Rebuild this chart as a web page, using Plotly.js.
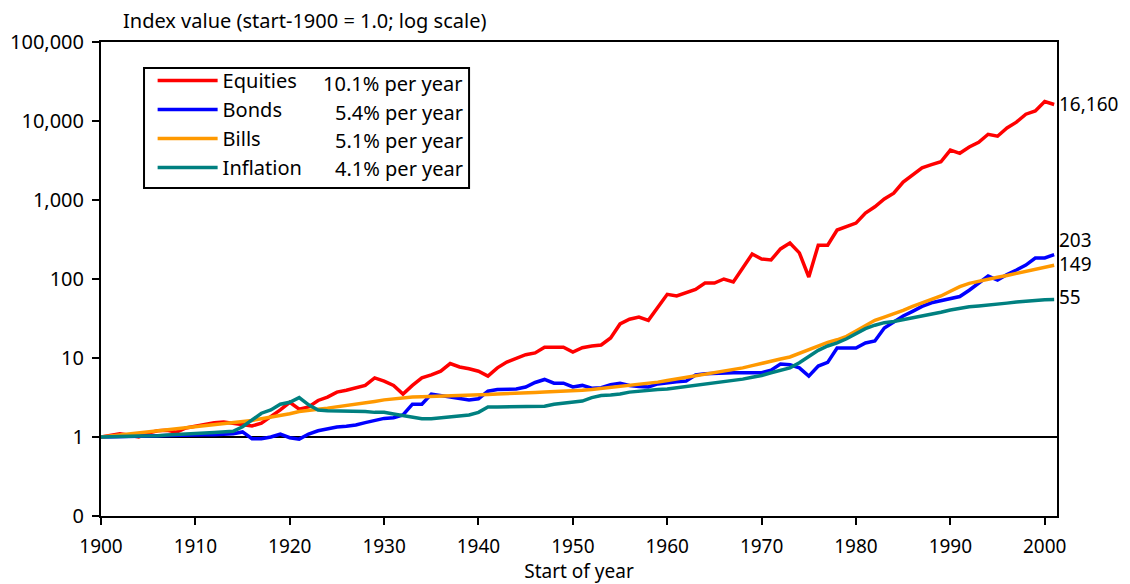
<!DOCTYPE html>
<html>
<head>
<meta charset="utf-8">
<script src="https://cdn.plot.ly/plotly-3.0.1.min.js"></script>
<style>
  html, body { margin: 0; padding: 0; background: #ffffff; }
  #chart { width: 1130px; height: 584px; }
</style>
</head>
<body>
<div id="chart"></div>
<script>
// ---- Data ----
const years = [
  1900,1901,1902,1903,1904,1905,1906,1907,1908,1909,
  1910,1911,1912,1913,1914,1915,1916,1917,1918,1919,
  1920,1921,1922,1923,1924,1925,1926,1927,1928,1929,
  1930,1931,1932,1933,1934,1935,1936,1937,1938,1939,
  1940,1941,1942,1943,1944,1945,1946,1947,1948,1949,
  1950,1951,1952,1953,1954,1955,1956,1957,1958,1959,
  1960,1961,1962,1963,1964,1965,1966,1967,1968,1969,
  1970,1971,1972,1973,1974,1975,1976,1977,1978,1979,
  1980,1981,1982,1983,1984,1985,1986,1987,1988,1989,
  1990,1991,1992,1993,1994,1995,1996,1997,1998,1999,
  2000,2001
];

const equities = [
  1.0,1.05,1.1,1.05,1.0,1.12,1.2,1.22,1.15,1.3,
  1.38,1.45,1.52,1.55,1.5,1.45,1.38,1.5,1.8,2.2,
  2.75,2.25,2.4,2.9,3.2,3.7,3.9,4.2,4.5,5.6,
  5.1,4.5,3.5,4.5,5.6,6.1,6.8,8.5,7.7,7.3,
  6.8,5.9,7.5,8.9,10.0,11.0,11.6,13.7,13.7,13.7,
  11.9,13.5,14.2,14.6,17.9,27,31,33,30,43,
  64,61,68,74,89,89,100,92,138,207,
  179,174,240,285,214,106,268,268,417,467,
  510,685,820,1030,1220,1690,2070,2560,2800,3050,
  4280,3900,4680,5360,6790,6420,8180,9660,12200,13400,
  17600,16160
];

const bonds = [
  1.0,1.0,1.0,1.01,1.02,1.03,1.04,1.05,1.05,1.06,
  1.06,1.07,1.07,1.08,1.1,1.16,0.95,0.95,1.0,1.09,
  0.98,0.94,1.09,1.2,1.27,1.34,1.37,1.42,1.52,1.62,
  1.72,1.75,1.9,2.6,2.6,3.5,3.35,3.2,3.05,2.95,
  3.05,3.8,4.0,4.0,4.05,4.3,4.9,5.35,4.8,4.8,
  4.3,4.5,4.15,4.2,4.6,4.8,4.5,4.35,4.3,4.7,
  4.9,5.0,5.1,6.1,6.3,6.4,6.5,6.5,6.5,6.5,
  6.5,7.0,8.4,8.2,7.5,5.9,7.9,8.8,13.4,13.4,
  13.4,15.5,16.4,24,29,34,39,45,50,53,
  57,60,72,89,109,97,114,130,150,184,
  185,203
];

const bills = [
  1.0,1.03,1.06,1.1,1.13,1.16,1.2,1.24,1.28,1.31,
  1.34,1.38,1.42,1.47,1.52,1.56,1.62,1.7,1.78,1.87,
  1.97,2.1,2.2,2.25,2.32,2.4,2.5,2.6,2.7,2.82,
  2.95,3.05,3.15,3.2,3.23,3.25,3.27,3.29,3.31,3.33,
  3.4,3.45,3.5,3.52,3.55,3.6,3.65,3.7,3.73,3.77,
  3.85,3.9,3.98,4.1,4.2,4.3,4.45,4.6,4.75,4.95,
  5.2,5.45,5.65,5.9,6.15,6.45,6.8,7.1,7.5,8.0,
  8.6,9.2,9.7,10.3,11.5,13.0,14.2,15.8,17.0,18.8,
  22,26,30,33,36,40,45,50,55,61,
  70,80,88,94,99,105,111,118,126,134,
  141,149
];

const inflation = [
  1.0,1.0,1.01,1.02,1.03,1.03,1.04,1.06,1.07,1.08,
  1.1,1.12,1.14,1.16,1.18,1.35,1.65,2.0,2.2,2.6,
  2.75,3.15,2.55,2.2,2.15,2.15,2.15,2.15,2.1,2.05,
  2.05,1.95,1.85,1.75,1.7,1.7,1.75,1.8,1.85,1.9,
  2.05,2.4,2.4,2.4,2.4,2.4,2.4,2.45,2.6,2.7,
  2.75,2.85,3.15,3.35,3.4,3.5,3.7,3.8,3.95,4.0,
  4.05,4.2,4.35,4.5,4.6,4.8,5.0,5.2,5.4,5.7,
  6.0,6.5,7.0,7.5,8.7,10.5,12.5,14.2,15.5,17.5,
  20.5,23.5,26,28,29,30.5,32,33.5,35.5,38,
  40.5,43,44.5,45.5,46.5,48,49.5,51,52.5,53.5,
  54.5,55
];

const seriesNames = ["Equities", "Bonds", "Bills", "Inflation"];
const seriesRates = ["10.1% per year", "5.4% per year", "5.1% per year", "4.1% per year"];
const endLabels = ["16,160", "203", "149", "55"];

const yTickVals = [0.1, 1, 10, 100, 1000, 10000, 100000];
const yTickText = ["0", "1", "10", "100", "1,000", "10,000", "100,000"];
const xTickVals = [1900, 1910, 1920, 1930, 1940, 1950, 1960, 1970, 1980, 1990, 2000];

// ---- Styles ----
const colors = ["#ff0000", "#0000ff", "#ff9900", "#008080"];
const FONT = "Noto Sans, Open Sans, DejaVu Sans, sans-serif";
const FS = 20;
const values = [equities, bonds, bills, inflation];

const traces = values.map((v, i) => ({
  x: years,
  y: v,
  type: "scatter",
  mode: "lines",
  name: seriesNames[i],
  line: { color: colors[i], width: 3.5 },
  hoverinfo: "x+y+name"
}));

const annotations = [];
// y-axis title at the top-left
annotations.push({
  text: "Index value (start-1900 = 1.0; log scale)",
  xref: "paper", yref: "paper",
  x: 0.021, y: 1.046, xanchor: "left", yanchor: "middle",
  showarrow: false, font: { family: FONT, size: FS, color: "#000" }
});
// rates in the legend box
const rateY = [0.9135, 0.852, 0.793, 0.734];
seriesRates.forEach((r, i) => {
  annotations.push({
    text: r, xref: "paper", yref: "paper",
    x: 0.381, y: rateY[i], xanchor: "right", yanchor: "middle",
    showarrow: false, font: { family: FONT, size: FS, color: "#000" }
  });
});
// end labels
const endShift = [1, 15, 1, 3];
values.forEach((v, i) => {
  annotations.push({
    text: endLabels[i], xref: "x", yref: "y",
    x: years[years.length - 1], y: Math.log10(v[v.length - 1]),
    xanchor: "left", yanchor: "middle", xshift: 3, yshift: endShift[i],
    showarrow: false, font: { family: FONT, size: 19, color: "#000" }
  });
});

const layout = {
  width: 1130, height: 584,
  margin: { l: 101, r: 73, t: 42, b: 68 },
  paper_bgcolor: "#ffffff", plot_bgcolor: "#ffffff",
  font: { family: FONT, size: FS, color: "#000" },
  showlegend: true,
  legend: {
    x: 0.054, y: 0.96, xanchor: "left", yanchor: "top",
    borderwidth: 0, bgcolor: "rgba(0,0,0,0)",
    font: { family: FONT, size: FS, color: "#000" },
    itemwidth: 60,
    tracegroupgap: 0
  },
  xaxis: {
    range: [1900, 2001.3],
    tickmode: "array", tickvals: xTickVals,
    ticks: "outside", ticklen: 7, tickwidth: 2, tickcolor: "#000",
    showline: true, linewidth: 2, linecolor: "#000", mirror: true,
    showgrid: false, zeroline: false,
    ticklabelstandoff: 5,
    tickfont: { family: FONT, size: 19, color: "#000" },
    title: { text: "Start of year", font: { family: FONT, size: 19, color: "#000" }, standoff: 5 }
  },
  yaxis: {
    type: "log", range: [-1, 5],
    tickmode: "array", tickvals: yTickVals, ticktext: yTickText,
    ticks: "outside", ticklen: 7, tickwidth: 2, tickcolor: "#000",
    showline: true, linewidth: 2, linecolor: "#000", mirror: true,
    showgrid: false, zeroline: false,
    ticklabelstandoff: 4,
    tickfont: { family: FONT, size: FS, color: "#000" }
  },
  shapes: [
    {
      type: "line", xref: "paper", yref: "y",
      x0: 0, x1: 1, y0: 1, y1: 1,
      line: { color: "#000", width: 2 }, layer: "below"
    },
    {
      type: "rect", xref: "paper", yref: "paper",
      x0: 0.045, x1: 0.385, y0: 0.692, y1: 0.945,
      line: { color: "#000", width: 2 }, fillcolor: "#ffffff", layer: "below"
    }
  ],
  annotations: annotations
};

Plotly.newPlot("chart", traces, layout, { displayModeBar: false, responsive: false });
</script>
</body>
</html>
